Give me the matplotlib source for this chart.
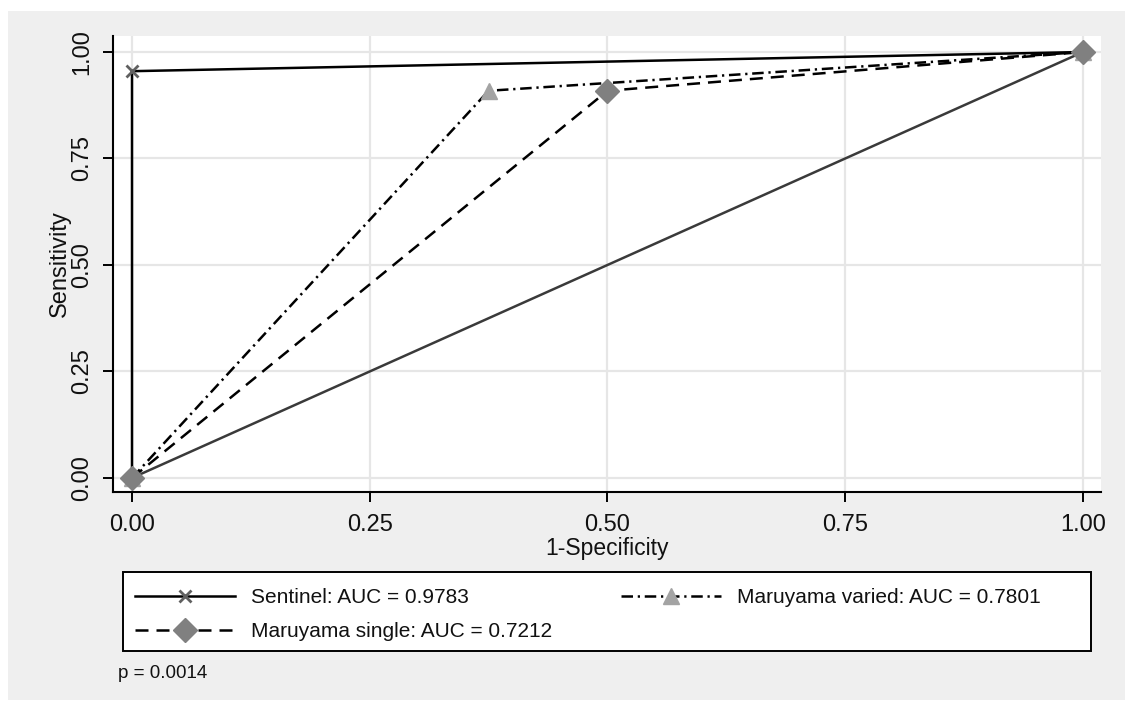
import matplotlib
matplotlib.use("Agg")
import matplotlib.pyplot as plt
from matplotlib.patches import Rectangle

plt.rcParams['font.family'] = ['Liberation Sans', 'DejaVu Sans']

# ---- data ----
sentinel_x = [0.0, 0.0, 1.0]
sentinel_y = [0.0, 0.955, 1.0]
varied_x = [0.0, 0.375, 1.0]
varied_y = [0.0, 0.909, 1.0]
single_x = [0.0, 0.5, 1.0]
single_y = [0.0, 0.909, 1.0]
ref_x = [0.0, 1.0]
ref_y = [0.0, 1.0]
ticks = [0.0, 0.25, 0.5, 0.75, 1.0]
tick_labels = ["0.00", "0.25", "0.50", "0.75", "1.00"]
series_labels = ["Sentinel: AUC = 0.9783", "Maruyama single: AUC = 0.7212",
                 "Maruyama varied: AUC = 0.7801"]
p_text = "p = 0.0014"

W, H = 1125, 704
fig = plt.figure(figsize=(W / 100, H / 100), dpi=100)
fig.patch.set_facecolor('white')

def fx(px):
    return px / W

def fy(py):
    return 1 - py / H

# gray background region
fig.patches.append(Rectangle((fx(8), fy(700)), fx(1125) - fx(8), fy(11) - fy(700),
                             transform=fig.transFigure, facecolor='#efefef',
                             edgecolor='none', zorder=-5))

ax_left, ax_right, ax_top, ax_bottom = 113, 1101, 36, 492
ax = fig.add_axes([fx(ax_left), fy(ax_bottom), fx(ax_right) - fx(ax_left), fy(ax_top) - fy(ax_bottom)])
ax.set_zorder(3)
ax.set_facecolor('white')
ax.set_xlim(-0.02, 1.019)
ax.set_ylim(-0.033, 1.0376)

for s in ['top', 'right']:
    ax.spines[s].set_visible(False)
for s in ['left', 'bottom']:
    ax.spines[s].set_linewidth(1.5)
    ax.spines[s].set_color('black')

ax.set_xticks(ticks)
ax.set_xticklabels(tick_labels)
ax.set_yticks(ticks)
ax.set_yticklabels(tick_labels, rotation=90, va='center')
ax.tick_params(axis='both', direction='out', length=7.5, width=1.4, color='black',
               labelsize=17, labelcolor='#111111')
ax.tick_params(axis='x', pad=8)
ax.tick_params(axis='y', pad=7)
ax.grid(True, color='#e6e6e6', linewidth=1.6, zorder=0)
ax.set_axisbelow(True)

ax.set_xlabel("1-Specificity", fontsize=16.5, labelpad=1, color='#111111')
ax.set_ylabel("Sensitivity", fontsize=17, color='#111111')
ax.yaxis.set_label_coords((71 - ax_left) / (ax_right - ax_left), 0.5)

lw = 1.8
dash_single = (0, (5.2, 3.2))
dash_varied = (0, (4.6, 1.9, 0.9, 1.9))

ax.plot(ref_x, ref_y, color='#3a3a3a', linewidth=lw, zorder=2)
l1, = ax.plot(sentinel_x, sentinel_y, color='black', linewidth=lw, zorder=3,
              marker='x', markersize=9, markeredgewidth=2.0, markeredgecolor='#606060')
l3, = ax.plot(varied_x, varied_y, color='black', linewidth=lw, linestyle=dash_varied, zorder=3,
              marker='^', markersize=11, markerfacecolor='#a3a3a3', markeredgecolor='#a3a3a3')
l2, = ax.plot(single_x, single_y, color='black', linewidth=lw, linestyle=dash_single, zorder=4,
              marker='D', markersize=12, markerfacecolor='#808080', markeredgecolor='#808080')

# legend box
fig.patches.append(Rectangle((fx(123), fy(651)), fx(1091) - fx(123), fy(572) - fy(651),
                             transform=fig.transFigure, facecolor='white',
                             edgecolor='black', linewidth=1.4, zorder=1))
leg = fig.legend([l1, l2, l3], series_labels, ncol=2, loc='upper left',
                 bbox_to_anchor=(fx(135), fy(588)), frameon=False, borderpad=0,
                 borderaxespad=0, fontsize=15, handlelength=4.8, handletextpad=0.77,
                 columnspacing=3.3, labelspacing=0.72, numpoints=1)
leg.set_zorder(6)
for t in leg.get_texts():
    t.set_color('#111111')

fig.text(fx(118), fy(673), p_text, fontsize=13.5, va='center', ha='left', color='#111111')

fig.savefig("out.png", dpi=100, facecolor='white')
